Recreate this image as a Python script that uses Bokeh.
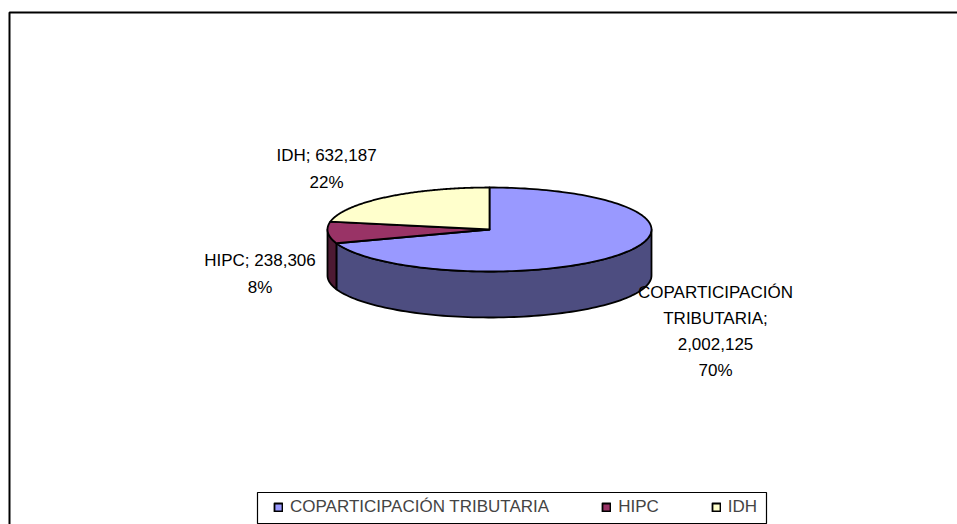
import textwrap
import numpy as np
from bokeh.plotting import figure
from bokeh.models import Range1d, BoxAnnotation, Legend, LegendItem
from bokeh.embed import file_html
from bokeh.resources import INLINE
from bokeh.core.properties import value

# ---------------- data ----------------
categories = ["COPARTICIPACIÓN TRIBUTARIA", "HIPC", "IDH"]
amounts = [2002125, 238306, 632187]
top_colors = ["#9999FF", "#993366", "#FFFFCC"]
side_colors = ["#4D4D80", "#4D1A33", "#80806A"]

# ---------------- layout ----------------
W, H = 957, 524
CX, CY, RX, RY, DEPTH = 489, 229, 162, 42, 46
label_pos = [(715, 331), (259.5, 273.5), (326, 168.5)]
FONT = "Liberation Sans"

p = figure(width=W, height=H, x_range=Range1d(0, W), y_range=Range1d(H, 0),
           output_backend="svg", toolbar_location=None,
           x_axis_type=None, y_axis_type=None, min_border=0)
p.outline_line_color = None
p.background_fill_color = "white"

total = sum(amounts)
fracs = np.array(amounts) / total
starts = 90 - 360 * np.concatenate([[0], np.cumsum(fracs)[:-1]])
ends = starts - 360 * fracs


def ex(t):
    return CX + RX * np.cos(np.radians(t))


def ey(t, d=0.0):
    return CY - RY * np.sin(np.radians(t)) + d


# side walls (front half only)
for i, (s, e) in enumerate(zip(starts, ends)):
    for k in (-360, 0, 360):
        lo, hi = max(e, 180 + k), min(s, 360 + k)
        if lo < hi:
            t = np.linspace(lo, hi, 90)
            xs = np.concatenate([ex(t), ex(t[::-1])])
            ys = np.concatenate([ey(t), ey(t[::-1], DEPTH)])
            p.patch(xs, ys, fill_color=side_colors[i], line_color="black",
                    line_width=1.8, line_join="round")

# top faces
tops = []
for i, (s, e) in enumerate(zip(starts, ends)):
    t = np.linspace(s, e, 160)
    xs = np.concatenate([[CX], ex(t)])
    ys = np.concatenate([[CY], ey(t)])
    r = p.patch(xs, ys, fill_color=top_colors[i], line_color="black",
                line_width=1.8, line_join="round")
    tops.append(r)

# data labels
labels = []
for c, a, f in zip(categories, amounts, fracs):
    lines = textwrap.wrap(f"{c}; {a:,}", 16)
    lines.append(f"{round(f * 100)}%")
    labels.append("\n".join(lines))

p.text(x=[q[0] for q in label_pos], y=[q[1] for q in label_pos], text=labels,
       text_align="center", text_baseline="middle", text_font=value(FONT),
       text_font_size="17px", text_line_height=1.37, text_color="black")

# chart frame (right and bottom edges lie outside the visible area)
p.add_layout(BoxAnnotation(left=9, right=W + 20, top=12, bottom=H + 20,
                           fill_alpha=0, line_color="black", line_alpha=1,
                           line_width=2))

# legend
p.add_layout(BoxAnnotation(left=257, right=766, top=492, bottom=523,
                           fill_alpha=0, line_color="black", line_alpha=1,
                           line_width=1.2))
legend = Legend(items=[LegendItem(label=c, renderers=[r]) for c, r in zip(categories, tops)],
                orientation="horizontal", location=(273, 7),
                glyph_width=10, glyph_height=10, label_standoff=7, spacing=52,
                padding=0, margin=0, border_line_color=None, background_fill_alpha=0,
                label_text_font=FONT, label_text_font_size="17px", label_height=17)
p.add_layout(legend, "center")

open("out.html", "w").write(file_html(p, INLINE))
